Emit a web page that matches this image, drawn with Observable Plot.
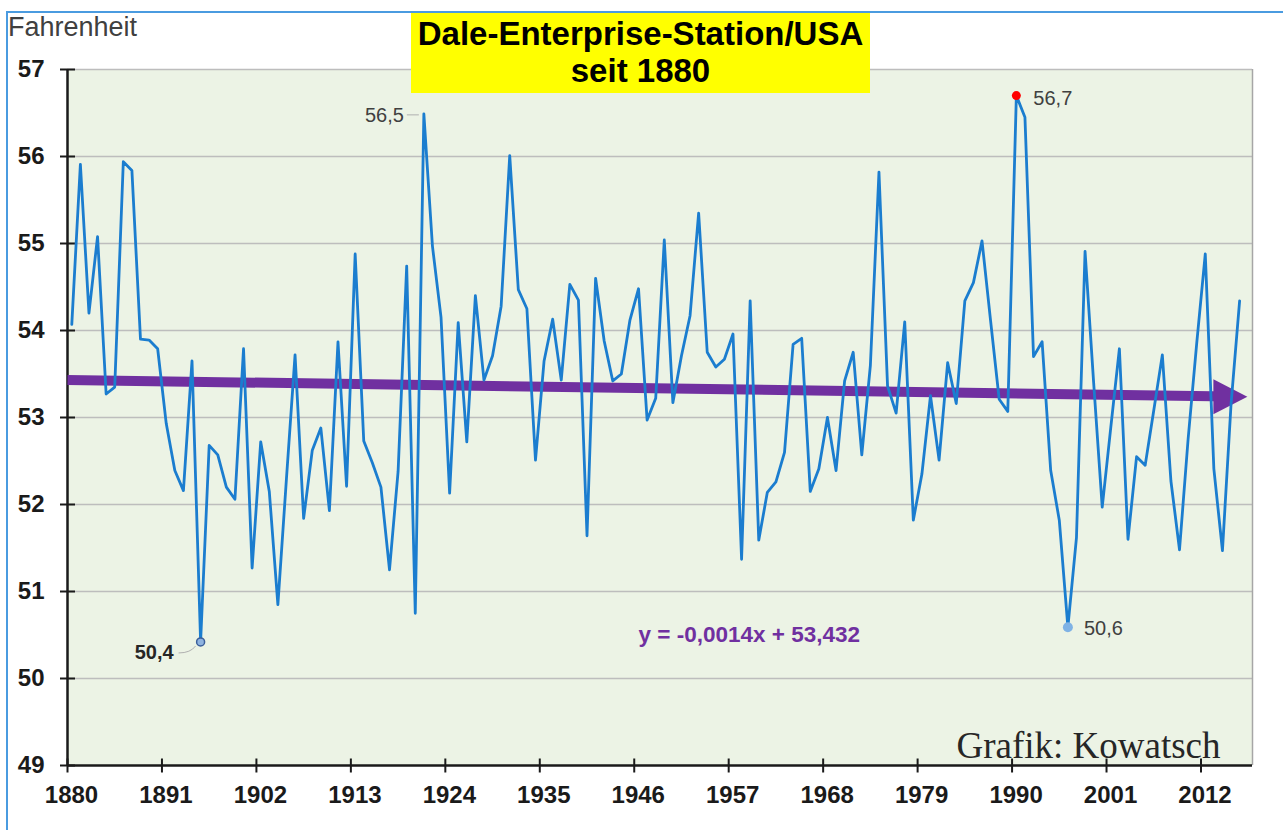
<!DOCTYPE html>
<html><head><meta charset="utf-8">
<script src="https://cdn.jsdelivr.net/npm/d3@7"></script>
<script src="https://cdn.jsdelivr.net/npm/@observablehq/plot@0.6"></script>
<style>
html,body{margin:0;padding:0;background:#fff;}
#wrap{position:relative;width:1283px;height:830px;overflow:hidden;font-family:"Liberation Sans",Arial,sans-serif;}
#chart{position:absolute;left:0;top:0;}
#border{position:absolute;left:6px;top:11px;width:1300px;height:840px;border-left:2px solid #4a9be0;border-top:2px solid #4a9be0;}
#title{position:absolute;left:411px;top:13px;width:459px;height:80px;background:#ffff00;text-align:center;font-weight:bold;font-size:33px;line-height:37px;color:#000;padding-top:2px;box-sizing:border-box;}
#ylabel{position:absolute;left:8px;top:12px;font-size:27px;color:#404040;}
</style></head><body>
<div id="wrap"><div id="chart"></div><div id="border"></div><div id="ylabel">Fahrenheit</div><div id="title">Dale-Enterprise-Station/USA<br>seit 1880</div></div>
<script>
// ---- data ----
const firstYear = 1880;
const temps = [
  54.07, 55.91, 54.20, 55.08, 53.27, 53.35, 55.94, 55.84, 53.90, 53.89,
  53.79, 52.93, 52.39, 52.16, 53.65, 50.42, 52.68, 52.57, 52.20, 52.06,
  53.79, 51.27, 52.72, 52.15, 50.85, 52.30, 53.72, 51.84, 52.62, 52.88,
  51.93, 53.87, 52.21, 54.88, 52.73, 52.48, 52.20, 51.25, 52.38, 54.74,
  50.75, 56.49, 54.97, 54.15, 52.13, 54.09, 52.72, 54.40, 53.43, 53.71,
  54.28, 56.01, 54.47, 54.25, 52.51, 53.65, 54.13, 53.43, 54.53, 54.35,
  51.64, 54.60, 53.88, 53.42, 53.50, 54.12, 54.48, 52.97, 53.22, 55.04,
  53.17, 53.71, 54.17, 55.35, 53.75, 53.58, 53.67, 53.96, 51.37, 54.34,
  51.59, 52.14, 52.26, 52.60, 53.84, 53.91, 52.15, 52.41, 53.00, 52.39,
  53.42, 53.75, 52.57, 53.60, 55.82, 53.36, 53.05, 54.10, 51.82, 52.35,
  53.25, 52.51, 53.63, 53.16, 54.34, 54.55, 55.03, 54.11, 53.21, 53.07,
  56.70, 56.45, 53.70, 53.87, 52.39, 51.82, 50.59, 51.62, 54.91, 53.40,
  51.97, 52.89, 53.79, 51.60, 52.55, 52.45, 53.08, 53.72, 52.27, 51.48,
  52.75, 53.85, 54.88, 52.41, 51.47, 53.15, 54.34
];
const xTickYears = [1880, 1891, 1902, 1913, 1924, 1935, 1946, 1957, 1968, 1979, 1990, 2001, 2012];
const yTicks = [49, 50, 51, 52, 53, 54, 55, 56, 57];
const axisEndYear = 2018;
const trendSlope = -0.0014;
const trendIntercept = 53.432;
const trendEquation = "y = -0,0014x + 53,432";
const trendArrowTip = 2017.4;
const equationPos = {year: 1946.5, value: 50.5};
const credit = "Grafik: Kowatsch";
const maxYear = 1990, minYear = 1895, secondMinYear = 1996, earlyPeakYear = 1921;

// ---- derived ----
const series = temps.map((t, i) => ({year: firstYear + i, x: firstYear + i + 0.5, t}));
const byYear = y => series.find(d => d.year === y);
const trendAt = x => trendIntercept + trendSlope * (x - (firstYear - 0.5));
const fmt = v => v.toFixed(1).replace(".", ",");
const trendShaft = [firstYear, trendArrowTip - 2].map(x => ({x, y: trendAt(x)}));
const trendHead = [{x: trendArrowTip, y: trendAt(trendArrowTip)}];

// custom symbols (pixel shapes)
const crossV = {draw(c){c.moveTo(0,-7);c.lineTo(0,7);}};
const crossH = {draw(c){c.moveTo(-7.5,0);c.lineTo(7.5,0);}};
const head = {draw(c){c.moveTo(0,0);c.lineTo(-34,-17.5);c.lineTo(-34,17.5);c.closePath();}};
const leaderLeft = {draw(c){c.moveTo(-17,1);c.lineTo(-5,1);}};
const leaderCurve = {draw(c){c.moveTo(-22,11);c.quadraticCurveTo(-10,11,-5,4);}};

const font = "Liberation Sans, Arial, sans-serif";
const pMax = [byYear(maxYear)], pMin = [byYear(minYear)], pMin2 = [byYear(secondMinYear)], pPeak = [byYear(earlyPeakYear)];

const chart = Plot.plot({
  width: 1283, height: 830,
  marginLeft: 67, marginRight: 31, marginTop: 69, marginBottom: 65,
  x: {domain: [firstYear, axisEndYear], axis: null},
  y: {domain: [49, 57], axis: null},
  style: {fontFamily: font, background: "transparent", overflow: "visible"},
  marks: [
    Plot.frame({fill: "#ecf3e5", stroke: null}),
    Plot.ruleY(yTicks.slice(1), {stroke: "#bdbdbd", strokeWidth: 1.5}),
    Plot.ruleX([axisEndYear], {stroke: "#a6a6a6", strokeWidth: 1.5}),
    Plot.ruleX([firstYear], {stroke: "#1a1a1a", strokeWidth: 2.5}),
    Plot.ruleY([49], {stroke: "#1a1a1a", strokeWidth: 2.5}),
    Plot.dot(xTickYears, {x: d => d, y: 49, symbol: crossV, stroke: "#1a1a1a", strokeWidth: 2, fill: "none"}),
    Plot.dot(yTicks, {x: firstYear, y: d => d, symbol: crossH, stroke: "#1a1a1a", strokeWidth: 2, fill: "none"}),
    Plot.axisX({ticks: xTickYears, tickSize: 0, tickPadding: 20, dx: 4, fontSize: 24, fontWeight: "bold", fill: "#1a1a1a", tickFormat: d => String(d), label: null}),
    Plot.axisY({ticks: yTicks, tickSize: 0, tickPadding: 23, fontSize: 24, fontWeight: "bold", fill: "#1a1a1a", label: null}),
    Plot.line(trendShaft, {x: "x", y: "y", stroke: "#7030a0", strokeWidth: 10, strokeLinecap: "butt"}),
    Plot.dot(trendHead, {x: "x", y: "y", symbol: head, fill: "#7030a0", stroke: "none"}),
    Plot.line(series, {x: "x", y: "t", stroke: "#1b7dcf", strokeWidth: 2.8, strokeLinejoin: "round"}),
    // early peak label with leader
    Plot.dot(pPeak, {x: "x", y: "t", symbol: leaderLeft, stroke: "#b0b0b0", strokeWidth: 1, fill: "none"}),
    Plot.text(pPeak, {x: "x", y: "t", text: d => fmt(d.t), textAnchor: "end", dx: -20, dy: 2, fontSize: 20, fill: "#404040"}),
    // max
    Plot.dot(pMax, {x: "x", y: "t", r: 4.5, fill: "#ff0000", stroke: "none"}),
    Plot.text(pMax, {x: "x", y: "t", text: d => fmt(d.t), textAnchor: "start", dx: 17, dy: 3, fontSize: 20, fill: "#404040"}),
    // min
    Plot.dot(pMin, {x: "x", y: "t", symbol: leaderCurve, stroke: "#b0b0b0", strokeWidth: 1, fill: "none"}),
    Plot.dot(pMin, {x: "x", y: "t", r: 4, fill: "#8fb3e0", stroke: "#3b5f9a", strokeWidth: 1.5}),
    Plot.text(pMin, {x: "x", y: "t", text: d => fmt(d.t), textAnchor: "end", dx: -27, dy: 11, fontSize: 20, fontWeight: "bold", fill: "#262626"}),
    // second min
    Plot.dot(pMin2, {x: "x", y: "t", r: 5, fill: "#7fb2e5", stroke: "none"}),
    Plot.text(pMin2, {x: "x", y: "t", text: d => fmt(d.t), textAnchor: "start", dx: 16, dy: 1, fontSize: 20, fill: "#404040"}),
    // equation
    Plot.text([trendEquation], {x: equationPos.year, y: equationPos.value, text: d => d, textAnchor: "start", fontSize: 22.5, fontWeight: "bold", fill: "#7030a0"}),
    // credit
    Plot.text([credit], {frameAnchor: "bottom-right", text: d => d, textAnchor: "end", lineAnchor: "bottom", dx: -32, dy: -8, fontFamily: "Liberation Serif, Times New Roman, serif", fontSize: 37, fill: "#262626"})
  ]
});
document.getElementById("chart").appendChild(chart);
</script>
</body></html>
